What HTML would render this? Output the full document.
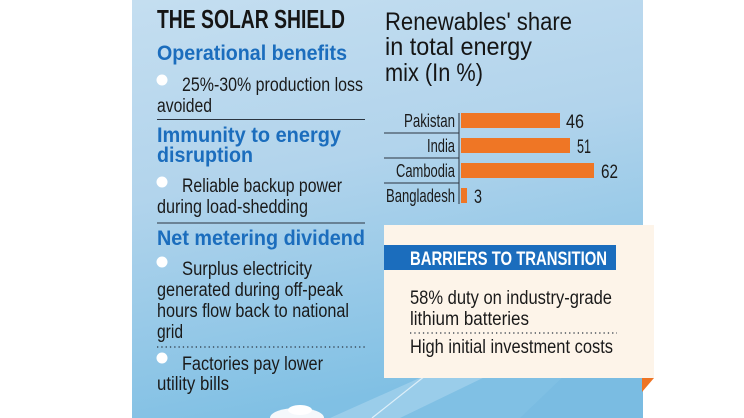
<!DOCTYPE html>
<html><head><meta charset="utf-8"><style>
html,body{margin:0;padding:0;background:#fff;}
svg{display:block;}
text{font-family:"Liberation Sans",sans-serif;}
</style></head><body>
<svg width="744" height="418" viewBox="0 0 744 418" xmlns="http://www.w3.org/2000/svg">
<defs>
<linearGradient id="bg" x1="0" y1="0" x2="0.25" y2="1">
<stop offset="0" stop-color="#c4def0"/>
<stop offset="0.45" stop-color="#b2d4ec"/>
<stop offset="1" stop-color="#80c0e4"/>
</linearGradient>
</defs>
<rect x="0" y="0" width="744" height="418" fill="#ffffff"/>
<rect x="132" y="0" width="511" height="418" fill="url(#bg)"/>
<!-- decorative bands -->
<polygon points="520,418 643,300 643,418" fill="#74b8e0" opacity="0.45"/>
<polygon points="330,418 460,360 520,360 400,418" fill="#d8ecf7" opacity="0.3"/>
<line x1="372" y1="418" x2="430" y2="372" stroke="#e6f3fb" stroke-width="1.2" opacity="0.9"/>
<ellipse cx="297" cy="418" rx="27" ry="10" fill="#f4f8fb"/>
<ellipse cx="300" cy="410" rx="12" ry="5" fill="#ffffff"/>

<!-- left column -->
<text x="157" y="28" font-size="25.5" font-weight="bold" fill="#151515" textLength="188" lengthAdjust="spacingAndGlyphs">THE SOLAR SHIELD</text>
<text x="157" y="60" font-size="21" font-weight="bold" fill="#1b6dbd" textLength="190" lengthAdjust="spacingAndGlyphs">Operational benefits</text>
<circle cx="162" cy="80" r="5.5" fill="#ffffff"/>
<text x="182" y="91" font-size="19" fill="#1a1a1a" textLength="181" lengthAdjust="spacingAndGlyphs">25%-30% production loss</text>
<text x="157" y="112" font-size="19" fill="#1a1a1a" textLength="55" lengthAdjust="spacingAndGlyphs">avoided</text>
<line x1="157" y1="119.5" x2="365" y2="119.5" stroke="#2b3440" stroke-width="1"/>
<text x="157" y="142" font-size="21" font-weight="bold" fill="#1b6dbd" textLength="184" lengthAdjust="spacingAndGlyphs">Immunity to energy</text>
<text x="157" y="162" font-size="21" font-weight="bold" fill="#1b6dbd" textLength="96" lengthAdjust="spacingAndGlyphs">disruption</text>
<circle cx="162" cy="182" r="5.5" fill="#ffffff"/>
<text x="182" y="192" font-size="19" fill="#1a1a1a" textLength="160" lengthAdjust="spacingAndGlyphs">Reliable backup power</text>
<text x="157" y="213" font-size="19" fill="#1a1a1a" textLength="151" lengthAdjust="spacingAndGlyphs">during load-shedding</text>
<line x1="157" y1="223" x2="365" y2="223" stroke="#2b3440" stroke-width="1"/>
<text x="157" y="245" font-size="21" font-weight="bold" fill="#1b6dbd" textLength="208" lengthAdjust="spacingAndGlyphs">Net metering dividend</text>
<circle cx="162" cy="262" r="5.5" fill="#ffffff"/>
<text x="182" y="275" font-size="19" fill="#1a1a1a" textLength="130" lengthAdjust="spacingAndGlyphs">Surplus electricity</text>
<text x="157" y="296" font-size="19" fill="#1a1a1a" textLength="186" lengthAdjust="spacingAndGlyphs">generated during off-peak</text>
<text x="157" y="317" font-size="19" fill="#1a1a1a" textLength="192" lengthAdjust="spacingAndGlyphs">hours flow back to national</text>
<text x="157" y="338" font-size="19" fill="#1a1a1a" textLength="26" lengthAdjust="spacingAndGlyphs">grid</text>
<line x1="157" y1="347" x2="365" y2="347" stroke="#2b3440" stroke-width="1.3" stroke-dasharray="1.3,3"/>
<circle cx="162" cy="358" r="5.5" fill="#ffffff"/>
<text x="182" y="370" font-size="19" fill="#1a1a1a" textLength="141" lengthAdjust="spacingAndGlyphs">Factories pay lower</text>
<text x="157" y="390" font-size="19" fill="#1a1a1a" textLength="72" lengthAdjust="spacingAndGlyphs">utility bills</text>

<!-- right column: chart -->
<text x="385" y="30" font-size="25" fill="#151515" textLength="187" lengthAdjust="spacingAndGlyphs">Renewables' share</text>
<text x="385" y="55" font-size="25" fill="#151515" textLength="147" lengthAdjust="spacingAndGlyphs">in total energy</text>
<text x="385" y="81" font-size="25" fill="#151515" textLength="98" lengthAdjust="spacingAndGlyphs">mix (In %)</text>

<line x1="459" y1="113" x2="459" y2="204" stroke="#2b3440" stroke-width="1"/>
<line x1="384" y1="133" x2="459" y2="133" stroke="#2b3440" stroke-width="1"/>
<line x1="384" y1="158" x2="459" y2="158" stroke="#2b3440" stroke-width="1"/>
<line x1="384" y1="183" x2="459" y2="183" stroke="#2b3440" stroke-width="1"/>

<rect x="461" y="113" width="99" height="15" fill="#ef7625"/>
<rect x="461" y="138" width="109" height="15" fill="#ef7625"/>
<rect x="461" y="163" width="133" height="15" fill="#ef7625"/>
<rect x="461" y="188" width="6" height="15" fill="#ef7625"/>

<text x="455" y="127" font-size="18" fill="#1a1a1a" text-anchor="end" textLength="51" lengthAdjust="spacingAndGlyphs">Pakistan</text>
<text x="455" y="152" font-size="18" fill="#1a1a1a" text-anchor="end" textLength="28" lengthAdjust="spacingAndGlyphs">India</text>
<text x="455" y="177" font-size="18" fill="#1a1a1a" text-anchor="end" textLength="59" lengthAdjust="spacingAndGlyphs">Cambodia</text>
<text x="455" y="202" font-size="18" fill="#1a1a1a" text-anchor="end" textLength="69" lengthAdjust="spacingAndGlyphs">Bangladesh</text>

<text x="566" y="128" font-size="19" fill="#1a1a1a" textLength="18" lengthAdjust="spacingAndGlyphs">46</text>
<text x="577" y="153" font-size="19" fill="#1a1a1a" textLength="14" lengthAdjust="spacingAndGlyphs">51</text>
<text x="601" y="178" font-size="19" fill="#1a1a1a" textLength="17" lengthAdjust="spacingAndGlyphs">62</text>
<text x="474" y="203" font-size="19" fill="#1a1a1a" textLength="8" lengthAdjust="spacingAndGlyphs">3</text>

<!-- barriers box -->
<rect x="384" y="225" width="270" height="153" fill="#fdf4e9"/>
<polygon points="642,378 654,378 642,392" fill="#ee7424"/>
<rect x="384" y="245" width="232" height="25" fill="#1b6dbd"/>
<text x="410" y="265" font-size="19.5" font-weight="bold" fill="#ffffff" textLength="197" lengthAdjust="spacingAndGlyphs">BARRIERS TO TRANSITION</text>
<text x="410" y="304" font-size="19" fill="#1a1a1a" textLength="202" lengthAdjust="spacingAndGlyphs">58% duty on industry-grade</text>
<text x="410" y="325" font-size="19" fill="#1a1a1a" textLength="119" lengthAdjust="spacingAndGlyphs">lithium batteries</text>
<line x1="410" y1="333" x2="617" y2="333" stroke="#2b3440" stroke-width="1.3" stroke-dasharray="1.3,3"/>
<text x="410" y="353" font-size="19" fill="#1a1a1a" textLength="203" lengthAdjust="spacingAndGlyphs">High initial investment costs</text>
</svg>
</body></html>
